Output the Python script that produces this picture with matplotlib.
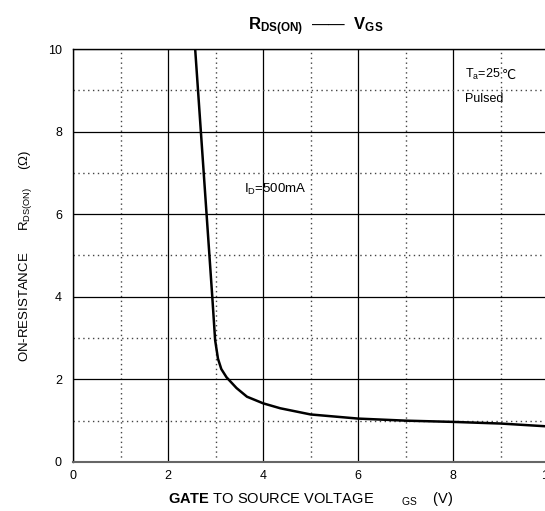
import numpy as np
import matplotlib
matplotlib.use('Agg')
import matplotlib.pyplot as plt

plt.rcParams['font.family'] = ['Liberation Sans', 'DejaVu Sans']
plt.rcParams['mathtext.fontset'] = 'custom'
plt.rcParams['mathtext.rm'] = 'Liberation Sans'
plt.rcParams['mathtext.bf'] = 'Liberation Sans:bold'

# curve (V_GS in V, R_DS(on) in ohm)
vgs = [2.57, 2.69, 2.81, 2.93, 2.99, 3.05, 3.12, 3.23, 3.44, 3.66, 4.0, 4.36, 5.0, 6.0, 7.0, 8.0, 9.0, 10.0]
rds = [10.0, 8.0, 6.0, 4.0, 2.95, 2.5, 2.25, 2.05, 1.79, 1.58, 1.42, 1.3, 1.15, 1.05, 1.0, 0.97, 0.93, 0.86]

xticks = [0, 2, 4, 6, 8, 10]
yticks = [0, 2, 4, 6, 8, 10]

fig = plt.figure(figsize=(5.45, 5.11), dpi=100)
ax = fig.add_axes([0.134, 0.096, 0.872, 0.808])

ax.plot(vgs, rds, color='black', lw=1.8, zorder=3)

ax.set_xlim(0, 10)
ax.set_ylim(0, 10)
ax.set_xticks(xticks)
ax.set_yticks(yticks)
ax.set_xticks([1, 3, 5, 7, 9], minor=True)
ax.set_yticks([1, 3, 5, 7, 9], minor=True)
ax.grid(True, which='major', color='black', lw=0.9, ls='-')
ax.grid(True, which='minor', color='#444444', lw=1.0, ls=(0, (1, 2.5)))
ax.tick_params(which='both', length=0, labelsize=9, pad=6)
ax.tick_params(axis='y', pad=8)
for s in ['left', 'top']:
    ax.spines[s].set_color('black')
    ax.spines[s].set_linewidth(1.0)
ax.spines['bottom'].set_color('#666666')
ax.spines['bottom'].set_linewidth(1.5)
ax.spines['right'].set_visible(False)

fig.text(0.58, 0.948, r'$\mathbf{R_{DS(ON)}}$  ——  $\mathbf{V_{GS}}$',
         ha='center', va='center', fontsize=12)

# x label (the V before GS is missing in the original too)
fig.text(0.57, 0.024, r'$\mathbf{GATE}$ TO SOURCE VOLTAGE       $_{\mathrm{GS}}$    (V)',
         ha='center', va='center', fontsize=10.5)
ax.set_ylabel(r'ON-RESISTANCE      R$_{\mathrm{DS(ON)}}$     ($\Omega$)', fontsize=9.5, labelpad=10)

ax.text(3.6, 6.6, r'I$_{\mathrm{D}}$=500mA', fontsize=9.5, va='center', ha='left')
t1 = ax.text(8.25, 9.3, r'T$_{\mathrm{a}}$=25', fontsize=9, va='baseline', ha='left')
ax.annotate('℃', xy=(1, 0), xycoords=t1, xytext=(0.5, 0), textcoords='offset points',
            fontsize=9, va='bottom', ha='left', family='DejaVu Sans')
ax.text(8.25, 8.8, 'Pulsed', fontsize=9, va='center', ha='left')

fig.savefig('out.png', dpi=100)
